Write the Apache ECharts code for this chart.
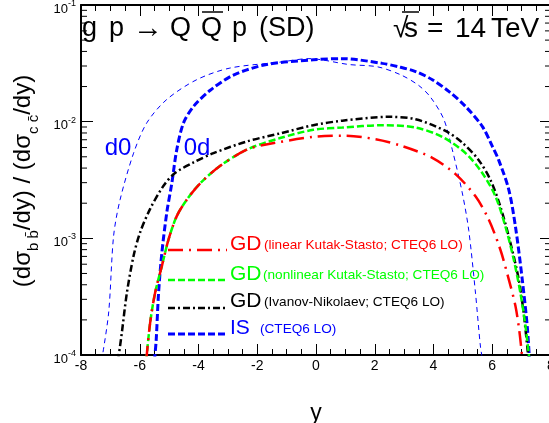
<!DOCTYPE html>
<html><head><meta charset="utf-8">
<script src="https://cdn.jsdelivr.net/npm/echarts@6/dist/echarts.min.js"></script>
<style>html,body{margin:0;padding:0;background:#fff}#c{width:549px;height:423px}</style>
</head><body><div id="c"></div>
<script>
const FONT = '"Liberation Sans", Arial, Helvetica, sans-serif';

// x-axis major tick values
const xTicks = [-8, -6, -4, -2, 0, 2, 4, 6, 8];
// y decades (log axis)
const yDecades = [1e-4, 1e-3, 1e-2, 1e-1];

// IS (CTEQ6 LO), "d0" orientation (thin blue dashed)
const isD0X = [-7.3, -7.06, -6.89, -6.67, -6.21, -5.76, -5.08, -4.06, -2.93, -1.22, -0.24, 1.12, 2.1, 2.9, 3.5, 3.9, 4.35, 4.64, 4.98, 5.2, 5.43, 5.6, 5.68];
const isD0Y = [8.9e-5, 2.29e-4, 1.05e-3, 2.14e-3, 5.37e-3, 9.77e-3, 0.0155, 0.0229, 0.0288, 0.0324, 0.0347, 0.0309, 0.0295, 0.0251, 0.0204, 0.0162, 0.0105, 0.00575, 0.00245, 0.00117, 3.39e-4, 1.17e-4, 8.9e-5];

// IS (CTEQ6 LO), "0d" orientation (thick blue dashed)
const is0dX = [-5.5, -5.44, -5.36, -5.25, -5.08, -4.91, -4.74, -4.51, -4.17, -3.6, -2.81, -1.68, -0.09, 0.9, 2.26, 2.82, 3.39, 3.96, 4.52, 5.09, 5.66, 6.0, 6.22, 6.56, 6.79, 7.02, 7.19, 7.27];
const is0dY = [8.9e-5, 1.35e-4, 3.39e-4, 7.41e-4, 1.66e-3, 2.95e-3, 5.75e-3, 9.77e-3, 0.0135, 0.0186, 0.0251, 0.0309, 0.0339, 0.0347, 0.0316, 0.0295, 0.0269, 0.0229, 0.0182, 0.0135, 0.00912, 0.00617, 0.00468, 0.00263, 0.00126, 4.47e-4, 1.78e-4, 8.9e-5];

// GD (Ivanov-Nikolaev; CTEQ6 LO) black dash-dot
const gdInX = [-6.74, -6.61, -6.44, -6.21, -5.99, -5.65, -5.19, -4.8, -4.17, -3.49, -2.36, -1.22, -0.09, 0.9, 2.48, 3.39, 4.41, 4.98, 5.54, 5.94, 6.28, 6.62, 6.9, 7.07, 7.24];
const gdInY = [8.9e-5, 1.55e-4, 3.39e-4, 7.08e-4, 1.12e-3, 1.78e-3, 2.82e-3, 3.63e-3, 4.47e-3, 5.37e-3, 6.76e-3, 7.94e-3, 9.33e-3, 0.0102, 0.011, 0.0105, 0.00832, 0.00661, 0.00468, 0.00316, 0.00186, 9.12e-4, 4.47e-4, 2.29e-4, 8.9e-5];

// GD (nonlinear Kutak-Stasto; CTEQ6 LO) green dashed
const gdNlX = [-5.78, -5.65, -5.48, -5.25, -5.02, -4.74, -4.4, -3.95, -3.27, -2.36, -1.22, -0.09, 0.9, 2.26, 3.39, 4.3, 5.09, 5.66, 6.11, 6.45, 6.73, 6.96, 7.13, 7.27];
const gdNlY = [8.9e-5, 1.86e-4, 3.39e-4, 5.75e-4, 9.77e-4, 1.55e-3, 2.14e-3, 2.95e-3, 4.17e-3, 5.75e-3, 7.24e-3, 8.51e-3, 8.91e-3, 9.33e-3, 8.91e-3, 7.41e-3, 5.37e-3, 3.63e-3, 2.29e-3, 1.26e-3, 6.61e-4, 3.39e-4, 1.78e-4, 8.9e-5];

// GD (linear Kutak-Stasto; CTEQ6 LO) red long-dash-dot
const gdLinX = [-5.78, -5.65, -5.48, -5.25, -5.02, -4.74, -4.4, -3.95, -3.27, -2.36, -1.79, -0.09, 0.9, 2.03, 2.94, 3.96, 4.75, 5.43, 5.88, 6.28, 6.56, 6.79, 6.93, 7.03];
const gdLinY = [8.9e-5, 1.86e-4, 3.39e-4, 5.75e-4, 9.77e-4, 1.55e-3, 2.14e-3, 2.95e-3, 4.17e-3, 5.75e-3, 6.31e-3, 7.41e-3, 7.59e-3, 7.08e-3, 6.17e-3, 4.9e-3, 3.55e-3, 2.29e-3, 1.45e-3, 7.94e-4, 4.47e-4, 2.63e-4, 1.55e-4, 8.9e-5];

const zip = (xs, ys) => xs.map((x, i) => [x, ys[i]]);

// minor tick values on the log axis
const yMinor = [];
yDecades.slice(0, 3).forEach(d => { for (let k = 2; k <= 9; k++) yMinor.push(+(d * k).toPrecision(3)); });

const GREEN = '#00ff00';
const chart = echarts.init(document.getElementById('c'), null, { renderer: 'canvas' });

const xAxisBase = (pos, showLabel) => ({
  type: 'value', position: pos, min: xTicks[0], max: xTicks[xTicks.length - 1], interval: 2,
  axisLine: { show: true, onZero: false, lineStyle: { color: '#000', width: 2 } },
  axisTick: { show: true, inside: true, length: 11, lineStyle: { color: '#000', width: 1 } },
  minorTick: { show: true, splitNumber: 4, length: 6, lineStyle: { color: '#000', width: 1 } },
  splitLine: { show: false }, minorSplitLine: { show: false },
  axisLabel: { show: showLabel, margin: 4, color: '#000', fontFamily: FONT, fontSize: 14 }
});
const yAxisBase = (pos, showLabel) => ({
  type: 'log', logBase: 10, position: pos, min: yDecades[0], max: yDecades[yDecades.length - 1],
  axisLine: { show: true, onZero: false, lineStyle: { color: '#000', width: 2 } },
  axisTick: { show: true, inside: true, length: 12, lineStyle: { color: '#000', width: 1 } },
  splitLine: { show: false },
  axisLabel: {
    show: showLabel, margin: 5, color: '#000', fontFamily: FONT, padding: [8, 0, 0, 0],
    formatter: v => '{b|10}{s|' + Math.round(Math.log10(v)) + '}',
    rich: {
      b: { fontSize: 13, lineHeight: 20, fontFamily: FONT, color: '#000' },
      s: { fontSize: 9, verticalAlign: 'top', fontFamily: FONT, color: '#000' }
    }
  }
});

const lineSeries = (name, xs, ys, color, width, dash) => ({
  name, type: 'line', data: zip(xs, ys), showSymbol: false, symbol: 'none', smooth: 0.3,
  clip: true, lineStyle: { color, width, type: dash }, z: 3
});

const legendRows = [
  { y: 250, ty: 244.5, color: '#ff0000', width: 2.5, dash: [15, 6, 2, 6], big: 'GD', small: '(linear Kutak-Stasto; CTEQ6 LO)', sx: 264 },
  { y: 280, ty: 274, color: GREEN, width: 2.5, dash: [7, 3], big: 'GD', small: '(nonlinear Kutak-Stasto; CTEQ6 LO)', sx: 263 },
  { y: 308, ty: 301.5, color: '#000000', width: 2.5, dash: [7, 3, 2, 3], big: 'GD', small: '(Ivanov-Nikolaev; CTEQ6 LO)', sx: 264 },
  { y: 334, ty: 328, color: '#0000ff', width: 3, dash: [7, 3], big: 'IS', small: '(CTEQ6 LO)', sx: 260 }
];

const graphics = [];
legendRows.forEach(r => {
  graphics.push({ type: 'line', shape: { x1: 168, y1: r.y, x2: 227, y2: r.y }, style: { stroke: r.color, lineWidth: r.width, lineDash: r.dash } });
  graphics.push({ type: 'text', x: 230, y: r.ty, style: { text: r.big, fill: r.color, font: '21px ' + FONT, verticalAlign: 'middle', align: 'left' } });
  graphics.push({ type: 'text', x: r.sx, y: r.ty + 1, style: { text: r.small, fill: r.color, font: '13.6px ' + FONT, verticalAlign: 'middle', align: 'left' } });
});
// title pieces
const titleL = [['g', 82], ['p', 109], ['\u2192', 133], ['Q', 170], ['Q', 201], ['p', 232], ['(SD)', 259]];
titleL.forEach(([t, x]) => graphics.push({ type: 'text', x, y: 29, style: { text: t, fill: '#000', font: (t === '\u2192' ? '30px ' : '27px ') + FONT, verticalAlign: 'middle', align: 'left' } }));
graphics.push({ type: 'line', shape: { x1: 202, y1: 12, x2: 223, y2: 12 }, style: { stroke: '#000', lineWidth: 1.5 } });
const titleR = [['\u221A', 393], ['s', 404], ['=', 427], ['14', 455], ['TeV', 491]];
titleR.forEach(([t, x]) => graphics.push({ type: 'text', x, y: 29, style: { text: t, fill: '#000', font: '28px ' + FONT, verticalAlign: 'middle', align: 'left' } }));
graphics.push({ type: 'line', shape: { x1: 402, y1: 12, x2: 419, y2: 12 }, style: { stroke: '#000', lineWidth: 1.5 } });
// d0 / 0d labels
graphics.push({ type: 'text', x: 118, y: 148, style: { text: 'd0', fill: '#0000ff', font: '24px ' + FONT, verticalAlign: 'middle', align: 'center' } });
graphics.push({ type: 'text', x: 197, y: 148, style: { text: '0d', fill: '#0000ff', font: '24px ' + FONT, verticalAlign: 'middle', align: 'center' } });
// y-axis title
graphics.push({
  type: 'text', x: 23, y: 181, rotation: Math.PI / 2,
  style: {
    text: '(d\u03C3{sub|b b\u0304}/dy) / (d\u03C3{sub|c c\u0304}/dy)',
    fill: '#000', font: '24px ' + FONT, fontSize: 24, fontFamily: FONT, lineHeight: 36,
    align: 'center', verticalAlign: 'middle',
    rich: { sub: { fontSize: 15, fontFamily: FONT, verticalAlign: 'bottom', fill: '#000' } }
  }
});

const option = {
  animation: false,
  backgroundColor: '#fff',
  grid: { left: 81, top: 5, width: 470, height: 350, containLabel: false, outerBoundsMode: 'none' },
  xAxis: [
    Object.assign(xAxisBase('bottom', true), { name: 'y', nameLocation: 'middle', nameGap: 47, nameTextStyle: { fontFamily: FONT, fontSize: 23, color: '#000' } }),
    xAxisBase('top', false)
  ],
  yAxis: [yAxisBase('left', true), Object.assign(yAxisBase('right', false), { axisTick: { show: true, inside: true, length: 11, lineStyle: { color: '#000', width: 1 } } })],
  series: [
    lineSeries('IS d0', isD0X, isD0Y, '#0000ff', 1, [5, 4]),
    lineSeries('IS 0d', is0dX, is0dY, '#0000ff', 3, [7, 3]),
    lineSeries('GD Ivanov-Nikolaev', gdInX, gdInY, '#000000', 2.5, [7, 3, 2, 3]),
    lineSeries('GD nonlinear Kutak-Stasto', gdNlX, gdNlY, GREEN, 2.5, [7, 3]),
    lineSeries('GD linear Kutak-Stasto', gdLinX, gdLinY, '#ff0000', 2.5, [15, 6, 2, 6]),
    {
      type: 'custom', name: 'yMinorTicks', xAxisIndex: 0, yAxisIndex: 0, clip: false, silent: true, z: 5,
      data: yMinor.map(v => [xTicks[0], v]), encode: { x: 0, y: 1 },
      renderItem: (params, api) => {
        const v = api.value(1);
        const l = api.coord([xTicks[0], v]);
        const r = api.coord([xTicks[xTicks.length - 1], v]);
        return { type: 'group', children: [
          { type: 'line', shape: { x1: l[0], y1: l[1], x2: l[0] + 6, y2: l[1] }, style: { stroke: '#000', lineWidth: 1 } },
          { type: 'line', shape: { x1: r[0], y1: r[1], x2: r[0] - 6, y2: r[1] }, style: { stroke: '#000', lineWidth: 1 } }
        ] };
      }
    }
  ],
  graphic: graphics
};
chart.setOption(option);
</script></body></html>
